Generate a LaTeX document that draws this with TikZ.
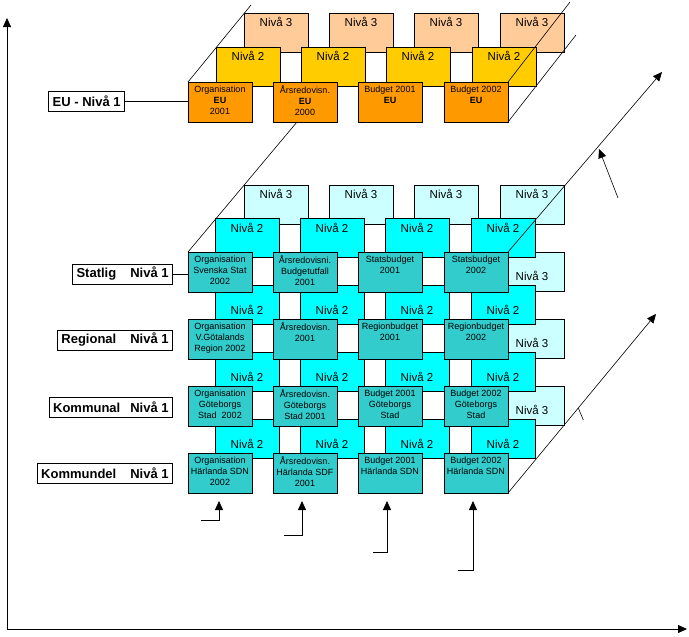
\documentclass[tikz,border=0pt]{standalone}
\usepackage{fontspec}
\setmainfont{Liberation Sans}
\usetikzlibrary{arrows.meta,calc}
\definecolor{euorange}{HTML}{FF9900}
\definecolor{euyellow}{HTML}{FFCC00}
\definecolor{eupeach}{HTML}{FFCC99}
\definecolor{orgteal}{HTML}{33CCCC}
\definecolor{lvlcyan}{HTML}{00FFFF}
\definecolor{lvllight}{HTML}{CCFFFF}
\newcommand{\orgcell}[5][orgteal]{%
  % #1 fill colour, #2 name, #3 x, #4 y of top left corner, #5 text
  \node[orgbox, fill=#1] (#2) at (#3,#4) {};
  \node[orgtext] (#2t) at ([yshift=-2pt]#2.north) {\strut#5};
}
\newcommand{\lvlcell}[6][lvlcyan]{%
  % #1 fill colour, #2 name, #3 x, #4 y of top left corner, #5 drop of baseline, #6 text
  \node[lvlbox, fill=#1] (#2) at (#3,#4) {};
  \node[lvltext] (#2t) at ([yshift=-#5pt]#2.north) {#6};
}
\begin{document}
\begin{tikzpicture}[x=1pt,y=-1pt]

\tikzset{
  cellbox/.style={draw=black, line width=0.8pt, anchor=north west, outer sep=0pt, inner sep=0pt},
  orgbox/.style={cellbox, minimum width=64pt, minimum height=40pt},
  lvlbox/.style={cellbox, minimum width=64pt, minimum height=39pt},
  orgtext/.style={anchor=north, align=center, inner sep=1pt, font=\fontsize{9}{11}\selectfont},
  lvltext/.style={anchor=base, inner sep=0pt, font=\fontsize{11.5}{13}\selectfont},
  tag/.style={draw=black, line width=0.8pt, anchor=east, minimum height=20pt, inner xsep=4pt, inner ysep=0pt, font=\fontsize{13}{15}\selectfont\bfseries},
  slant/.style={line width=0.6pt},
  slantarr/.style={line width=0.6pt, -{Triangle[length=9pt,width=8pt]}},
  arr/.style={line width=0.8pt, -{Triangle[length=9pt,width=8pt]}},
}
\useasboundingbox (0,0) rectangle (689,637);

% ---------------- axes ----------------
\coordinate (o) at (7,629);
\coordinate (ytop) at (7,18);
\coordinate (xend) at (687,629);
\draw[arr] (o) -- (ytop);
\draw[arr] (o) -- (xend);

% ---------------- EU layer ----------------
% Nivå 3 (back)
\lvlcell[eupeach]{e3a}{244}{13}{14}{Nivå 3}
\lvlcell[eupeach]{e3b}{329}{13}{14}{Nivå 3}
\lvlcell[eupeach]{e3c}{414}{13}{14}{Nivå 3}
\lvlcell[eupeach]{e3d}{500}{13}{14}{Nivå 3}
% Nivå 2
\lvlcell[euyellow]{e2a}{216}{47}{13.5}{Nivå 2}
\lvlcell[euyellow]{e2b}{301}{47}{13.5}{Nivå 2}
\lvlcell[euyellow]{e2c}{386}{47}{13.5}{Nivå 2}
\lvlcell[euyellow]{e2d}{472}{47}{13.5}{Nivå 2}
% Nivå 1
\orgcell[euorange]{e1a}{188}{82}{Organisation\\\textbf{EU}\\2001}
\orgcell[euorange]{e1b}{273}{82}{Årsredovisn.\\\textbf{EU}\\2000}
\orgcell[euorange]{e1c}{358}{82}{Budget 2001\\\textbf{EU}}
\orgcell[euorange]{e1d}{444}{82}{Budget 2002\\\textbf{EU}}

\node[tag] (eutag) at (125,101.5) {EU - Nivå 1};
\draw[line width=0.8pt] (eutag.east) -- (eutag.east -| e1a.west);

% outline of the EU layer
\coordinate (eul) at (251,5);
\coordinate (eur) at (570,2);
\coordinate (eub) at (576,35);
\draw[slant] (e1a.north west) -- (eul);
\draw[slant] (e1d.north east) -- (eur);
\draw[slant] (e1d.south east) -- (eub);

% ---------------- Sverige: stat, region, kommun, stadsdel ----------------
% Nivå 3, top row and right side
\lvlcell[lvllight]{s3a}{244}{185}{13.5}{Nivå 3}
\lvlcell[lvllight]{s3b}{329}{185}{13.5}{Nivå 3}
\lvlcell[lvllight]{s3c}{414}{185}{13.5}{Nivå 3}
\lvlcell[lvllight]{s3d}{500}{185}{13.5}{Nivå 3}
\lvlcell[lvllight]{r3d}{500}{252}{28}{Nivå 3}
\lvlcell[lvllight]{k3d}{500}{319}{28}{Nivå 3}
\lvlcell[lvllight]{d3d}{500}{386}{28}{Nivå 3}

% Nivå 2
\lvlcell{s2a}{215}{218}{14}{Nivå 2}
\lvlcell{s2b}{300}{218}{14}{Nivå 2}
\lvlcell{s2c}{385}{218}{14}{Nivå 2}
\lvlcell{s2d}{471}{218}{14}{Nivå 2}
\lvlcell{r2a}{215}{285}{29}{Nivå 2}
\lvlcell{r2b}{300}{285}{29}{Nivå 2}
\lvlcell{r2c}{385}{285}{29}{Nivå 2}
\lvlcell{r2d}{471}{285}{29}{Nivå 2}
\lvlcell{k2a}{215}{352}{29}{Nivå 2}
\lvlcell{k2b}{300}{352}{29}{Nivå 2}
\lvlcell{k2c}{385}{352}{29}{Nivå 2}
\lvlcell{k2d}{471}{352}{29}{Nivå 2}
\lvlcell{d2a}{215}{419}{29}{Nivå 2}
\lvlcell{d2b}{300}{419}{29}{Nivå 2}
\lvlcell{d2c}{385}{419}{29}{Nivå 2}
\lvlcell{d2d}{471}{419}{29}{Nivå 2}

% Nivå 1
\orgcell{s1a}{188}{252}{Organisation\\Svenska Stat\\2002}
\orgcell{s1b}{273}{252}{Årsredovisni.\\Budgetutfall\\2001}
\orgcell{s1c}{358}{252}{Statsbudget\\2001}
\orgcell{s1d}{444}{252}{Statsbudget\\2002}
\orgcell{r1a}{188}{319}{Organisation\\V.Götalands\\Region 2002}
\orgcell{r1b}{273}{319}{Årsredovisn.\\2001}
\orgcell{r1c}{358}{319}{Regionbudget\\2001}
\orgcell{r1d}{444}{319}{Regionbudget\\2002}
\orgcell{k1a}{188}{386}{Organisation\\Göteborgs\\Stad\ \ 2002}
\orgcell{k1b}{273}{386}{Årsredovisn.\\Göteborgs\\Stad 2001}
\orgcell{k1c}{358}{386}{Budget 2001\\Göteborgs\\Stad}
\orgcell{k1d}{444}{386}{Budget 2002\\Göteborgs\\Stad}
\orgcell{d1a}{188}{453}{Organisation\\Härlanda SDN\\2002}
\orgcell{d1b}{273}{453}{Årsredovisn.\\Härlanda SDF\\2001}
\orgcell{d1c}{358}{453}{Budget 2001\\Härlanda SDN}
\orgcell{d1d}{444}{453}{Budget 2002\\Härlanda SDN}

% row labels
\node[tag] (stattag) at (173,274) {Statlig\hspace{14pt}Nivå 1};
\node[tag] (regtag) at (173,340) {Regional\hspace{14pt}Nivå 1};
\node[tag] (komtag) at (173,407.5) {Kommunal\hspace{10pt}Nivå 1};
\node[tag] (deltag) at (173,473) {Kommundel\hspace{14pt}Nivå 1};
\draw[line width=0.8pt] (stattag.east) -- (stattag.east -| s1a.west);

% outline and directions
\coordinate (eufoot) at (297,122);
\coordinate (up1) at (662,72);
\coordinate (up2) at (656,314);
\coordinate (p1) at (618,198);
\coordinate (p2) at (599,149);
\draw[slant] (s1a.north west) -- (eufoot);
\draw[slantarr] (s1d.north east) -- (up1);
\draw[slantarr] (d1d.south east) -- (up2);
\draw[slant] ($(d1d.south east)!0.475!(up2)$) -- ++(5,12);
\draw[slantarr] (p1) -- (p2);

% arrows from below
\coordinate (f1) at (201,520);
\coordinate (f2) at (284,535);
\coordinate (f3) at (373,552);
\coordinate (f4) at (458,570);
\draw[arr] (f1) -| ([xshift=-1pt,yshift=-8pt]d1a.south);
\draw[arr] (f2) -| ([xshift=-3pt,yshift=-8pt]d1b.south);
\draw[arr] (f3) -| ([xshift=-3pt,yshift=-8pt]d1c.south);
\draw[arr] (f4) -| ([xshift=-3pt,yshift=-8pt]d1d.south);

\end{tikzpicture}
\end{document}
